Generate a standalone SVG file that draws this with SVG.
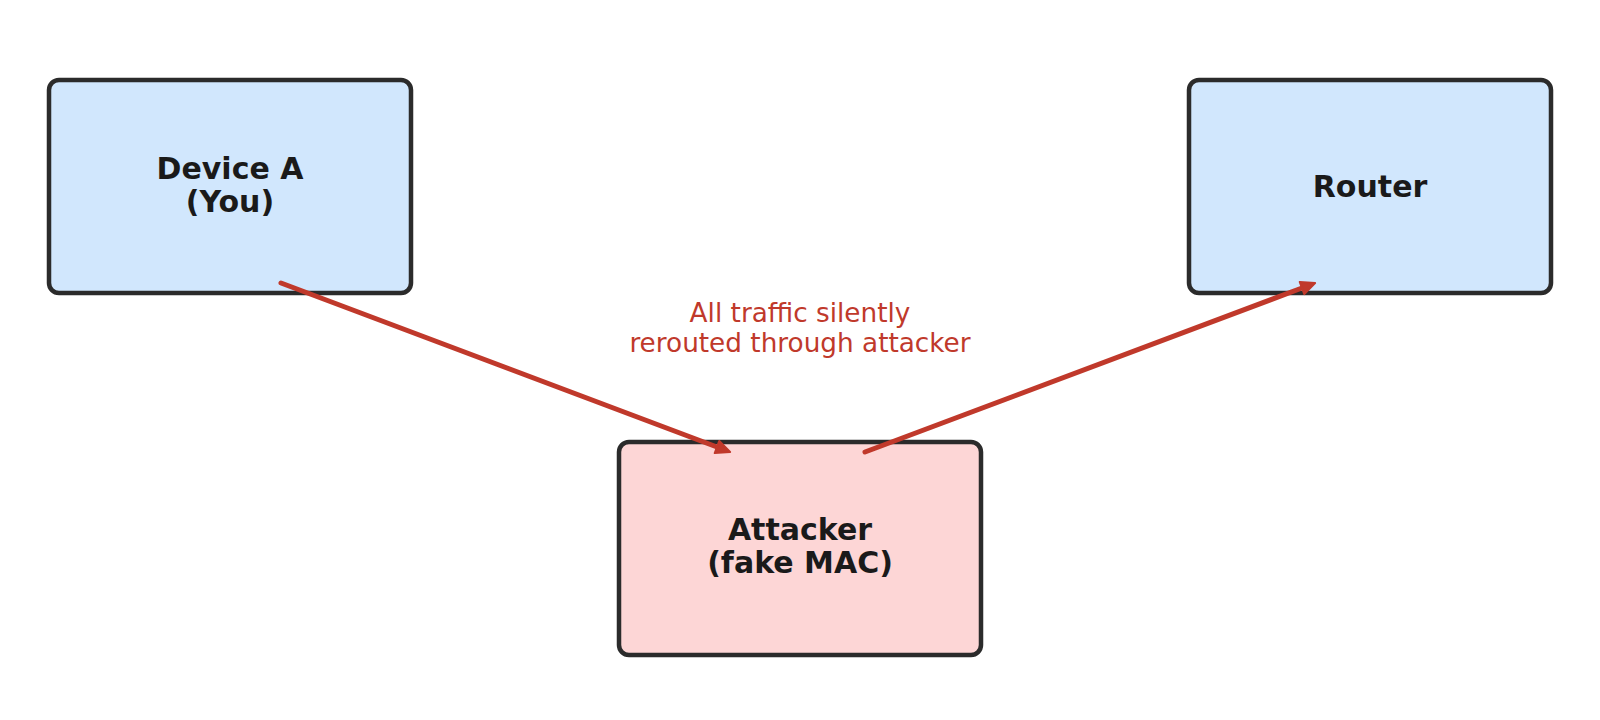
<svg xmlns="http://www.w3.org/2000/svg" width="1600" height="720" viewBox="0 0 1600 720">
<style>
.box{stroke:#2b2b2b;stroke-width:4.5;}
.blue{fill:#d1e7fd;}
.pink{fill:#fdd6d6;}
.t{font-family:"DejaVu Sans",sans-serif;font-weight:bold;font-size:30px;fill:#1a1a1a;text-anchor:middle;}
.lbl{font-family:"DejaVu Sans",sans-serif;font-size:26.3px;fill:#c0392b;text-anchor:middle;}
.edge{stroke:#c0392b;stroke-width:5;fill:none;stroke-linecap:round;}
</style>
<defs>
<marker id="ah" markerUnits="userSpaceOnUse" markerWidth="20" markerHeight="16" viewBox="-2 -8 20 16" refX="0" refY="0" orient="auto" overflow="visible">
<path d="M0,-6.5 L14,0 L0,6.5 z" fill="#c0392b" stroke="#c0392b" stroke-width="2" stroke-linejoin="round"/>
</marker>
</defs>
<rect width="1600" height="720" fill="#ffffff"/>
<g id="deviceA">
<rect class="box blue" x="49" y="80" width="362" height="213" rx="10"/>
<text class="t" x="230" y="179">Device A</text>
<text class="t" x="230" y="212">(You)</text>
</g>
<g id="router">
<rect class="box blue" x="1189" y="80" width="362" height="213" rx="10"/>
<text class="t" x="1370" y="197">Router</text>
</g>
<g id="attacker">
<rect class="box pink" x="619" y="442" width="362" height="213" rx="10"/>
<text class="t" x="800" y="540">Attacker</text>
<text class="t" x="800" y="573">(fake MAC)</text>
</g>
<g id="connectors">
<line class="edge" x1="281" y1="283" x2="717" y2="447" marker-end="url(#ah)"/>
<line class="edge" x1="865" y1="452" x2="1302" y2="288" marker-end="url(#ah)"/>
<text class="lbl" x="800" y="322">All traffic silently</text>
<text class="lbl" x="800" y="352">rerouted through attacker</text>
</g>
</svg>
